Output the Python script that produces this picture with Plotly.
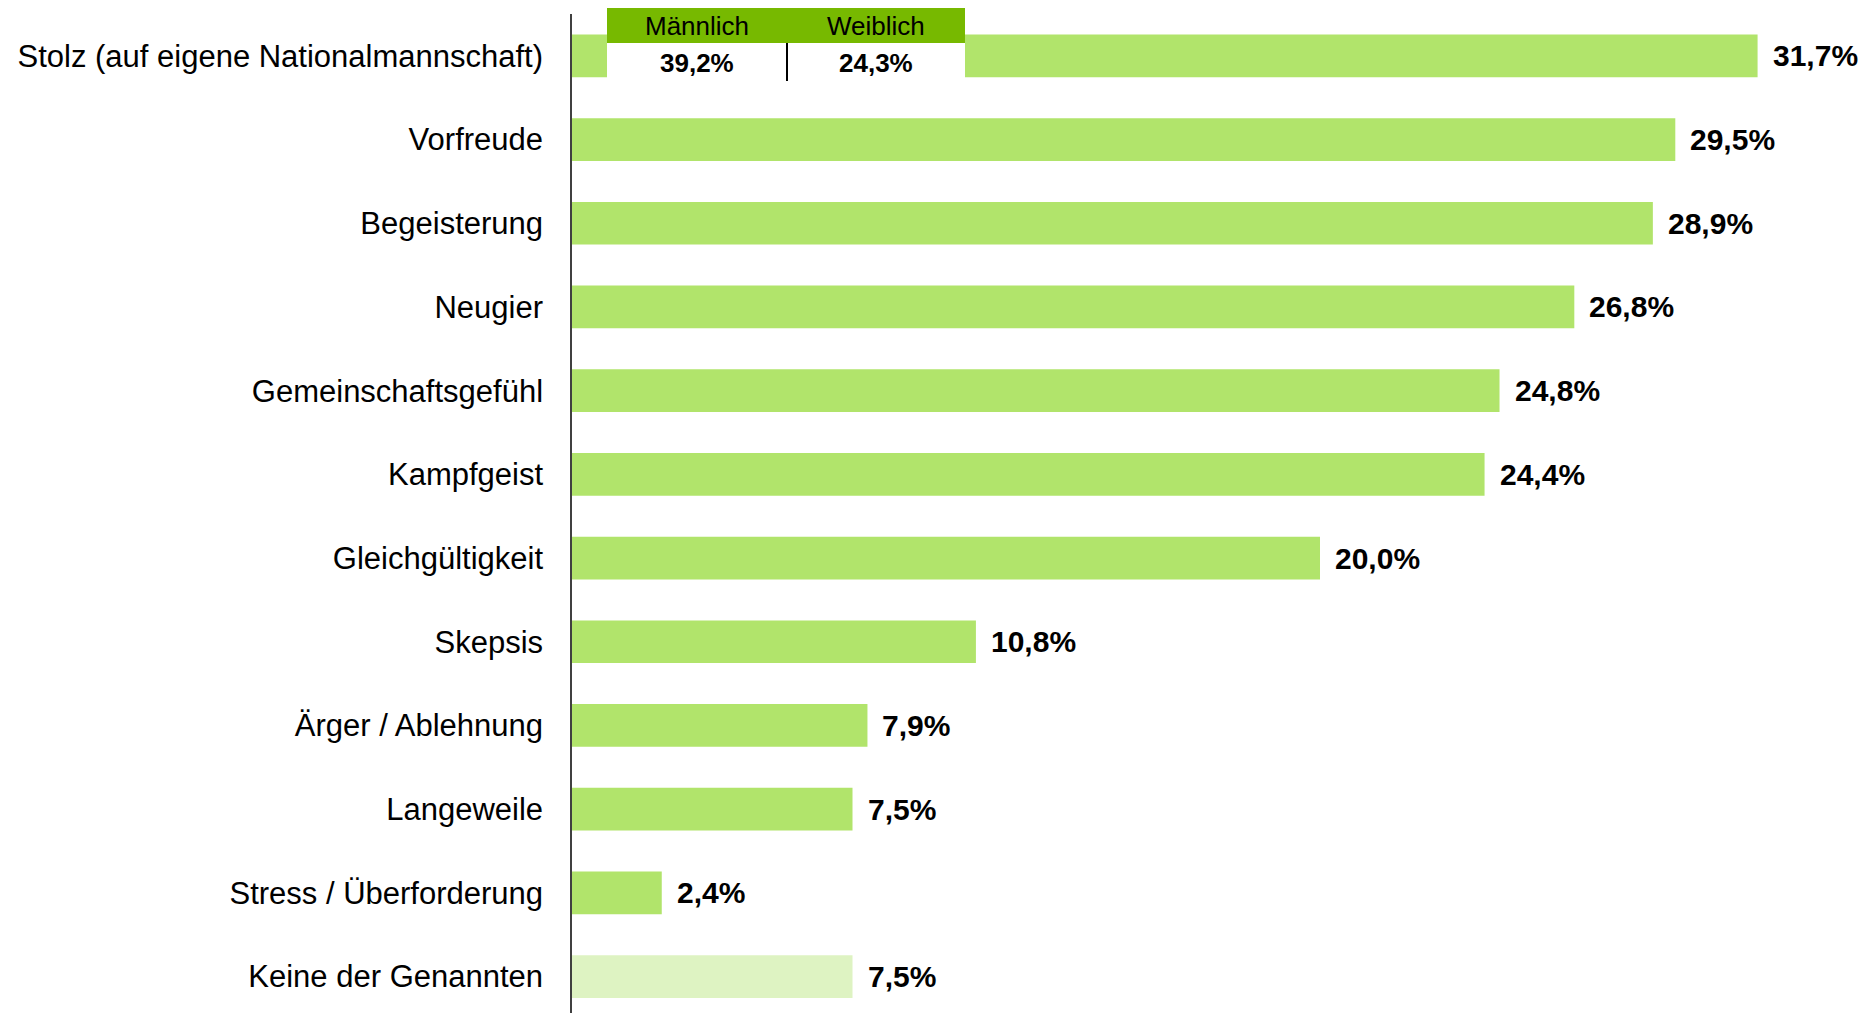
import plotly.graph_objects as go

categories = [
    "Stolz (auf eigene Nationalmannschaft)", "Vorfreude", "Begeisterung", "Neugier",
    "Gemeinschaftsgefühl", "Kampfgeist", "Gleichgültigkeit", "Skepsis",
    "Ärger / Ablehnung", "Langeweile", "Stress / Überforderung", "Keine der Genannten",
]
values = [31.7, 29.5, 28.9, 26.8, 24.8, 24.4, 20.0, 10.8, 7.9, 7.5, 2.4, 7.5]
bar_colors = ["#b1e46b"] * 11 + ["#def3c2"]

inset_groups = ["Männlich", "Weiblich"]
inset_values = [39.2, 24.3]

FONT = "Liberation Sans, Arial, sans-serif"
OFF = 8  # page body margin
W, H = 1870 - OFF, 1013 - OFF
L, T = 572 - OFF, 14 - OFF
plot_w, plot_h = W - L, H - T

fig = go.Figure()
fig.add_trace(go.Bar(
    y=categories, x=values, orientation="h",
    marker=dict(color=bar_colors, line=dict(width=0)),
    width=0.51, hoverinfo="skip",
))

annotations = []
for c, v in zip(categories, values):
    annotations.append(dict(
        x=v, y=c, xref="x", yref="y", xanchor="left", yanchor="middle",
        xshift=13, showarrow=False,
        text="<b>" + f"{v:.1f}".replace(".", ",") + "%</b>",
        font=dict(family=FONT, size=30, color="#000000"),
    ))

def px_x(px):
    return (px - OFF - L) / plot_w

def px_y(py):
    return (H - (py - OFF)) / plot_h

shapes = [
    dict(type="rect", xref="paper", yref="paper", x0=px_x(607), x1=px_x(965),
         y0=px_y(43), y1=px_y(6), fillcolor="#77b900", line=dict(width=0), layer="above"),
    dict(type="rect", xref="paper", yref="paper", x0=px_x(607), x1=px_x(965),
         y0=px_y(79), y1=px_y(43), fillcolor="#ffffff", line=dict(width=0), layer="above"),
    dict(type="line", xref="paper", yref="paper", x0=px_x(787), x1=px_x(787),
         y0=px_y(81), y1=px_y(43), line=dict(color="#000000", width=2), layer="above"),
]
centers = [697, 876]
for g, v, c in zip(inset_groups, inset_values, centers):
    annotations.append(dict(xref="paper", yref="paper", x=px_x(c), y=px_y(26),
                            text=g, showarrow=False, xanchor="center", yanchor="middle",
                            font=dict(family=FONT, size=26, color="#000000")))
    annotations.append(dict(xref="paper", yref="paper", x=px_x(c), y=px_y(63),
                            text="<b>" + f"{v:.1f}".replace(".", ",") + "%</b>",
                            showarrow=False, xanchor="center", yanchor="middle",
                            font=dict(family=FONT, size=26, color="#000000")))

rows_px = 83.7
fig.update_layout(
    width=W, height=H,
    margin=dict(l=L, r=0, t=T, b=0, autoexpand=False),
    paper_bgcolor="#ffffff", plot_bgcolor="#ffffff",
    showlegend=False,
    shapes=shapes, annotations=annotations,
    xaxis=dict(range=[0, plot_w / 37.4], visible=False, fixedrange=True),
    yaxis=dict(
        categoryorder="array", categoryarray=categories,
        range=[-0.5 + plot_h / rows_px, -0.5],
        showline=True, linecolor="#404040", linewidth=1.5,
        showgrid=False, zeroline=False, ticks="",
        ticklabelstandoff=21,
        tickfont=dict(family=FONT, size=31, color="#000000"),
    ),
)
fig.write_html("out.html")
